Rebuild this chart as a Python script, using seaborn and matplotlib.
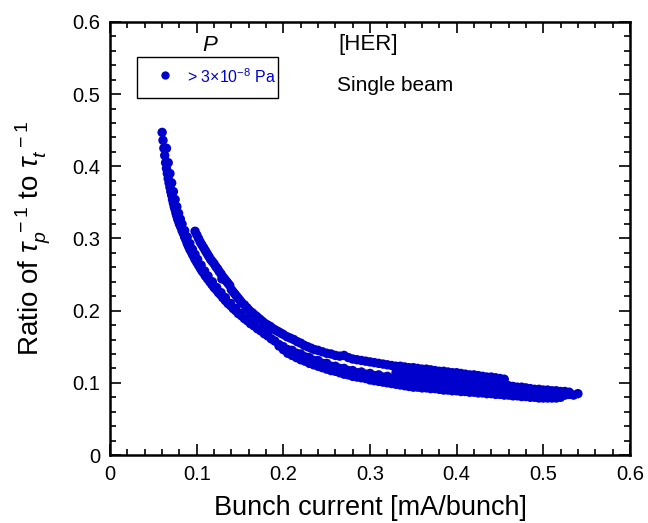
import numpy as np
import pandas as pd
import matplotlib
matplotlib.use("Agg")
import matplotlib.pyplot as plt
import seaborn as sns
from matplotlib.ticker import MultipleLocator
from matplotlib.patches import Rectangle

# ---- data ----
# lower main trace (top edge of lower band)
t1_x = [0.060, 0.062, 0.064, 0.066, 0.068, 0.070, 0.072, 0.074, 0.076, 0.078,
        0.080, 0.083, 0.086, 0.089, 0.092, 0.095, 0.098, 0.102, 0.106, 0.110,
        0.115, 0.120, 0.125, 0.130, 0.136, 0.142, 0.148, 0.155, 0.162, 0.170,
        0.178, 0.186, 0.195, 0.205, 0.215, 0.225, 0.235, 0.245, 0.255, 0.265,
        0.275, 0.285, 0.295, 0.305, 0.315, 0.325, 0.335, 0.345, 0.355, 0.365,
        0.375, 0.385, 0.395, 0.405, 0.415, 0.425, 0.435, 0.445, 0.455, 0.465,
        0.475, 0.485, 0.495, 0.505, 0.515, 0.525, 0.535, 0.540]
t1_y = [0.447, 0.425, 0.405, 0.390, 0.377, 0.365, 0.354, 0.344, 0.335, 0.327,
        0.320, 0.311, 0.302, 0.293, 0.285, 0.278, 0.271, 0.263, 0.255, 0.248,
        0.240, 0.232, 0.225, 0.218, 0.210, 0.203, 0.196, 0.189, 0.182, 0.175,
        0.168, 0.161, 0.153, 0.146, 0.141, 0.136, 0.131, 0.127, 0.123, 0.120,
        0.117, 0.114, 0.112, 0.110, 0.108, 0.106, 0.104, 0.102, 0.100, 0.099,
        0.097, 0.096, 0.095, 0.093, 0.092, 0.091, 0.090, 0.089, 0.088, 0.087,
        0.086, 0.085, 0.084, 0.084, 0.083, 0.083, 0.083, 0.085]
# trace between the points of t1
t1b_x = [0.061, 0.063, 0.065, 0.067, 0.069, 0.071, 0.073, 0.075, 0.077, 0.079,
         0.0815, 0.0845, 0.0875, 0.0905, 0.0935, 0.0965, 0.100, 0.104, 0.108,
         0.1125, 0.1175, 0.1225, 0.1275, 0.133, 0.139, 0.145, 0.1515, 0.1585,
         0.166, 0.174, 0.182, 0.190, 0.200, 0.210, 0.220, 0.230, 0.240, 0.250,
         0.260, 0.270, 0.280, 0.290, 0.300, 0.310, 0.320, 0.330, 0.340, 0.350,
         0.360, 0.370, 0.380, 0.390, 0.400, 0.410, 0.420, 0.430, 0.440, 0.450,
         0.460, 0.470, 0.480, 0.490, 0.500, 0.510, 0.520, 0.530]
t1b_y = [0.436, 0.415, 0.397, 0.383, 0.371, 0.360, 0.349, 0.340, 0.331, 0.324,
         0.316, 0.307, 0.298, 0.289, 0.282, 0.275, 0.267, 0.259, 0.252,
         0.244, 0.236, 0.229, 0.222, 0.214, 0.207, 0.200, 0.193, 0.186,
         0.179, 0.172, 0.165, 0.158, 0.150, 0.145, 0.140, 0.135, 0.131, 0.127,
         0.123, 0.120, 0.117, 0.115, 0.113, 0.111, 0.109, 0.107, 0.105, 0.103,
         0.101, 0.100, 0.098, 0.097, 0.096, 0.094, 0.093, 0.092, 0.091, 0.090,
         0.089, 0.088, 0.087, 0.086, 0.085, 0.085, 0.084, 0.084]
# lower edge of lower band
t0_x = [0.195, 0.200, 0.205, 0.210, 0.215, 0.220, 0.225, 0.230, 0.235,
        0.240, 0.245, 0.250, 0.255, 0.260, 0.265, 0.270, 0.275, 0.280, 0.285,
        0.290, 0.295, 0.300, 0.305, 0.310, 0.315, 0.320, 0.325, 0.330, 0.335,
        0.340, 0.345, 0.350, 0.355]
t0_y = [0.151, 0.146, 0.141, 0.138, 0.135, 0.132, 0.130, 0.127, 0.125,
        0.123, 0.121, 0.119, 0.117, 0.116, 0.114, 0.112, 0.111, 0.109, 0.108,
        0.107, 0.106, 0.104, 0.103, 0.102, 0.101, 0.100, 0.099, 0.098, 0.097,
        0.096, 0.095, 0.094, 0.094]
# second trace next to the steep part
t2_x = [0.065, 0.067, 0.069, 0.071, 0.073, 0.075, 0.077, 0.079, 0.081, 0.083,
        0.086, 0.089, 0.092, 0.095, 0.098, 0.101, 0.105, 0.109, 0.113, 0.118,
        0.123, 0.128, 0.133, 0.139, 0.145, 0.151, 0.158, 0.165, 0.173, 0.181]
t2_y = [0.425, 0.405, 0.390, 0.377, 0.365, 0.354, 0.344, 0.335, 0.327, 0.320,
        0.311, 0.302, 0.293, 0.285, 0.278, 0.271, 0.263, 0.255, 0.248, 0.240,
        0.232, 0.225, 0.218, 0.210, 0.203, 0.196, 0.189, 0.182, 0.175, 0.168]
# upper branch
t3_x = [0.098, 0.100, 0.102, 0.104, 0.106, 0.108, 0.110, 0.112, 0.114, 0.116,
        0.118, 0.120, 0.122, 0.124, 0.126, 0.128, 0.129, 0.130, 0.132, 0.134,
        0.136, 0.138, 0.140, 0.142, 0.144, 0.146, 0.148, 0.150, 0.152, 0.155,
        0.158, 0.160, 0.163, 0.165, 0.168, 0.170, 0.173, 0.176, 0.179, 0.182,
        0.185, 0.188, 0.191, 0.194, 0.197, 0.200, 0.204, 0.208, 0.212, 0.216,
        0.220, 0.224, 0.228, 0.232, 0.236, 0.240, 0.245, 0.250, 0.255, 0.260,
        0.265, 0.270, 0.275, 0.280, 0.285, 0.290, 0.295, 0.300, 0.305, 0.310,
        0.315, 0.320, 0.325, 0.330, 0.335, 0.340, 0.345, 0.350, 0.355, 0.360,
        0.365, 0.370, 0.375, 0.380, 0.385, 0.390, 0.395, 0.400, 0.405, 0.410,
        0.415, 0.420, 0.425, 0.430, 0.435, 0.440, 0.445, 0.450, 0.455]
t3_y = [0.310, 0.305, 0.300, 0.295, 0.291, 0.287, 0.283, 0.279, 0.275, 0.271,
        0.268, 0.265, 0.261, 0.258, 0.254, 0.251, 0.244, 0.247, 0.244, 0.241,
        0.238, 0.235, 0.229, 0.226, 0.223, 0.220, 0.217, 0.214, 0.211, 0.208,
        0.204, 0.201, 0.198, 0.196, 0.193, 0.191, 0.188, 0.185, 0.182, 0.180,
        0.178, 0.175, 0.173, 0.171, 0.169, 0.167, 0.164, 0.162, 0.160, 0.157,
        0.155, 0.152, 0.150, 0.148, 0.146, 0.145, 0.143, 0.141, 0.140, 0.138,
        0.137, 0.138, 0.135, 0.133, 0.132, 0.131, 0.130, 0.129, 0.128, 0.127,
        0.126, 0.125, 0.124, 0.123, 0.123, 0.122, 0.121, 0.121, 0.120, 0.119,
        0.119, 0.118, 0.117, 0.116, 0.116, 0.115, 0.114, 0.114, 0.113, 0.112,
        0.111, 0.111, 0.110, 0.109, 0.108, 0.108, 0.107, 0.106, 0.105]
# traces filling the dense part at high current
t4_x = [0.330, 0.335, 0.340, 0.345, 0.350, 0.355, 0.360, 0.365, 0.370, 0.375,
        0.380, 0.385, 0.390, 0.395, 0.400, 0.405, 0.410, 0.415, 0.420, 0.425,
        0.430, 0.435, 0.440, 0.445, 0.450, 0.455, 0.460, 0.465, 0.470, 0.475,
        0.480, 0.485, 0.490, 0.495, 0.500, 0.505, 0.510, 0.515, 0.520, 0.525,
        0.530]
t4_y = [0.114, 0.113, 0.112, 0.112, 0.111, 0.110, 0.109, 0.109, 0.108, 0.108,
        0.107, 0.107, 0.106, 0.105, 0.104, 0.104, 0.103, 0.102, 0.101, 0.101,
        0.100, 0.099, 0.099, 0.098, 0.097, 0.097, 0.096, 0.095, 0.094, 0.094,
        0.093, 0.092, 0.091, 0.091, 0.090, 0.090, 0.089, 0.089, 0.088, 0.088,
        0.087]
t5_x = [0.360, 0.365, 0.370, 0.375, 0.380, 0.385, 0.390, 0.395, 0.400, 0.405,
        0.410, 0.415, 0.420, 0.425, 0.430, 0.435, 0.440, 0.445, 0.450, 0.455,
        0.460, 0.465, 0.470, 0.475, 0.480, 0.485, 0.490, 0.495, 0.500, 0.505,
        0.510, 0.515, 0.520]
t5_y = [0.093, 0.093, 0.092, 0.092, 0.091, 0.090, 0.090, 0.089, 0.089, 0.088,
        0.088, 0.087, 0.087, 0.086, 0.086, 0.085, 0.085, 0.084, 0.084, 0.083,
        0.083, 0.082, 0.082, 0.081, 0.081, 0.080, 0.080, 0.079, 0.079, 0.079,
        0.079, 0.079, 0.080]

x_ticks = [0, 0.1, 0.2, 0.3, 0.4, 0.5, 0.6]
y_ticks = [0, 0.1, 0.2, 0.3, 0.4, 0.5, 0.6]
tick_labels = ["0", "0.1", "0.2", "0.3", "0.4", "0.5", "0.6"]
legend_label = r"> 3$\times$10$^{-8}$ Pa"

df = pd.DataFrame({
    "current": t1_x + t1b_x + t0_x + t2_x + t3_x + t4_x + t5_x,
    "ratio": t1_y + t1b_y + t0_y + t2_y + t3_y + t4_y + t5_y,
})

sns.set_style("ticks")
plt.rcParams["font.family"] = ["Liberation Sans", "DejaVu Sans"]
plt.rcParams["mathtext.fontset"] = "custom"
plt.rcParams["mathtext.rm"] = "Liberation Sans"
plt.rcParams["mathtext.it"] = "Liberation Sans:italic"
plt.rcParams["mathtext.bf"] = "Liberation Sans:bold"
plt.rcParams["text.color"] = "black"
plt.rcParams["axes.labelcolor"] = "black"
plt.rcParams["xtick.color"] = "black"
plt.rcParams["ytick.color"] = "black"

blue = "#0000cd"
fig = plt.figure(figsize=(6.48, 5.23), dpi=100)
ax = fig.add_axes([0.170, 0.130, 0.802, 0.828])

sns.scatterplot(data=df, x="current", y="ratio", ax=ax, color=blue,
                s=46, linewidth=0, edgecolor="none", legend=False)

ax.set_xlim(0, 0.6)
ax.set_ylim(0, 0.6)
ax.set_xticks(x_ticks)
ax.set_xticklabels(tick_labels)
ax.set_yticks(y_ticks)
ax.set_yticklabels(tick_labels)
ax.xaxis.set_minor_locator(MultipleLocator(0.02))
ax.yaxis.set_minor_locator(MultipleLocator(0.02))
ax.tick_params(which="both", direction="in", top=True, right=True,
               width=1.2, colors="black", labelcolor="black")
ax.tick_params(which="major", length=8, labelsize=14.5, pad=7)
ax.tick_params(which="minor", length=4)
for sp in ax.spines.values():
    sp.set_linewidth(1.8)
    sp.set_color("black")

ax.set_xlabel("Bunch current [mA/bunch]", fontsize=19.5, labelpad=8)
ax.set_ylabel(r"Ratio of $\tau_{p}^{\ -1}$ to $\tau_{t}^{\ -1}$",
              fontsize=20, labelpad=14)

# legend box drawn by hand (title sits above the frame as in the original)
ax.add_patch(Rectangle((0.052, 0.824), 0.271, 0.095, transform=ax.transAxes,
                       facecolor="white", edgecolor="black", linewidth=1.0,
                       zorder=5))
ax.plot([0.106], [0.878], marker="o", markersize=5, color=blue,
        transform=ax.transAxes, zorder=6, clip_on=False)
ax.text(0.148, 0.874, legend_label, transform=ax.transAxes, fontsize=11.5,
        color=blue, ha="left", va="center", zorder=6)
ax.text(0.192, 0.946, "P", transform=ax.transAxes, fontsize=16,
        style="italic", ha="center", va="center", color="black")
ax.text(0.496, 0.947, "[HER]", transform=ax.transAxes, fontsize=16,
        ha="center", va="center", color="black")
ax.text(0.548, 0.854, "Single beam", transform=ax.transAxes, fontsize=15,
        ha="center", va="center", color="black")

fig.savefig("out.png", dpi=100)
